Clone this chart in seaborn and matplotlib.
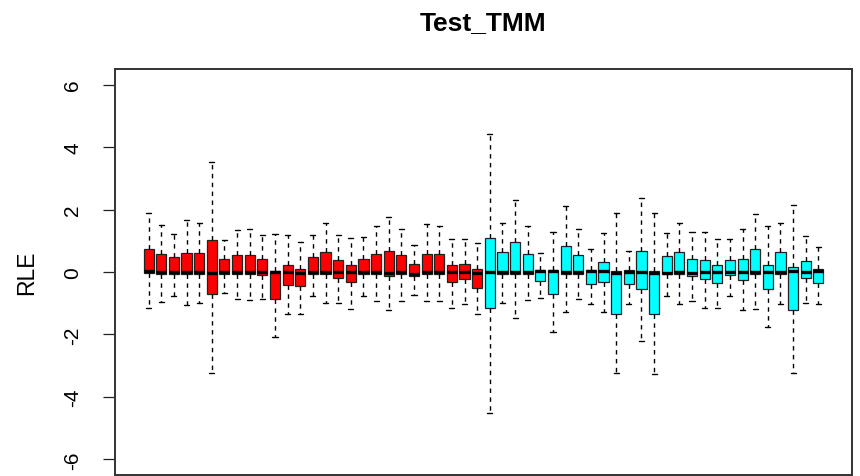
import numpy as np
import pandas as pd
import matplotlib
matplotlib.use("Agg")
import matplotlib.pyplot as plt
import seaborn as sns

# ---- data ----
n_red = 27
n_cyan = 27
whisker_low = [-1.16, -0.97, -0.78, -1.05, -0.99, -3.22, -0.66, -0.88, -0.90, -0.86,
               -2.07, -1.34, -1.33, -0.76, -1.00, -0.99, -1.18, -0.76, -0.94, -1.21,
               -0.92, -0.75, -0.94, -0.94, -1.14, -1.01, -1.35,
               -4.52, -0.99, -1.46, -0.91, -0.82, -1.91, -1.29, -0.88, -1.03, -1.27,
               -3.24, -1.02, -2.20, -3.26, -0.78, -1.02, -0.94, -1.14, -1.16, -0.78,
               -1.21, -1.17, -1.75, -1.02, -3.22, -1.00, -1.02]
q1 = [-0.04, -0.05, -0.07, -0.05, -0.05, -0.71, -0.05, -0.05, -0.05, -0.09,
      -0.85, -0.41, -0.46, -0.06, -0.06, -0.18, -0.33, -0.05, -0.06, -0.12,
      -0.06, -0.14, -0.06, -0.06, -0.33, -0.24, -0.51,
      -1.16, -0.06, -0.06, -0.05, -0.29, -0.71, -0.06, -0.06, -0.37, -0.31,
      -1.34, -0.39, -0.53, -1.34, -0.05, -0.05, -0.12, -0.23, -0.35, -0.09,
      -0.25, -0.05, -0.55, -0.05, -1.21, -0.20, -0.34]
median = [0.03, 0.0, 0.0, 0.0, 0.0, -0.02, 0.0, 0.0, 0.0, 0.0,
          -0.01, -0.01, -0.02, 0.0, 0.0, 0.0, 0.01, 0.0, 0.0, -0.02,
          0.0, -0.05, 0.0, 0.0, 0.0, 0.0, -0.02,
          0.0, 0.0, 0.0, 0.0, 0.02, 0.02, 0.0, 0.0, 0.02, 0.02,
          -0.02, 0.01, 0.0, -0.02, -0.02, 0.0, -0.03, -0.01, -0.01, 0.0,
          0.0, 0.0, 0.0, 0.0, 0.04, 0.0, 0.02]
q3 = [0.74, 0.59, 0.48, 0.62, 0.62, 1.01, 0.41, 0.54, 0.56, 0.42,
      0.03, 0.24, 0.11, 0.48, 0.63, 0.37, 0.23, 0.41, 0.57, 0.67,
      0.54, 0.27, 0.59, 0.57, 0.23, 0.27, 0.09,
      1.09, 0.65, 0.95, 0.57, 0.07, 0.08, 0.83, 0.53, 0.08, 0.31,
      0.03, 0.05, 0.66, 0.03, 0.50, 0.63, 0.42, 0.38, 0.23, 0.38,
      0.41, 0.74, 0.22, 0.65, 0.15, 0.34, 0.10]
whisker_high = [1.89, 1.51, 1.21, 1.65, 1.57, 3.52, 1.03, 1.35, 1.39, 1.17,
                1.22, 1.17, 0.96, 1.19, 1.57, 1.17, 1.09, 1.12, 1.47, 1.75,
                1.38, 0.88, 1.55, 1.47, 1.06, 1.05, 0.94,
                4.43, 1.58, 2.31, 1.48, 0.60, 1.28, 2.10, 1.38, 0.75, 1.24,
                1.89, 0.66, 2.37, 1.89, 1.25, 1.57, 1.27, 1.28, 1.05, 1.05,
                1.37, 1.87, 1.46, 1.57, 2.13, 1.14, 0.80]
groups = ["Group1"] * n_red + ["Group2"] * n_cyan
samples = [f"S{i + 1:02d}" for i in range(n_red + n_cyan)]
yticks = [-6, -4, -2, 0, 2, 4, 6]
title = "Test_TMM"
ylabel = "RLE"

# long-form table: five summary points per sample reproduce the box statistics
rows = []
for s, g, a, b, c, d, e in zip(samples, groups, whisker_low, q1, median, q3, whisker_high):
    for v in (a, b, c, d, e):
        rows.append((s, g, v))
df = pd.DataFrame(rows, columns=["sample", "group", "RLE"])

# ---- figure ----
sns.set_style("white")
plt.rcParams["font.family"] = ["Liberation Sans", "DejaVu Sans"]
plt.rcParams["text.color"] = "black"
plt.rcParams["axes.labelcolor"] = "black"
plt.rcParams["ytick.color"] = "black"

fig = plt.figure(figsize=(8.6, 4.77), dpi=100)
L, R, T, B = 115, 852, 70, 476
ax = fig.add_axes([L / 860, 1 - B / 477, (R - L) / 860, (B - T) / 477])

sns.boxplot(data=df, x="sample", y="RLE", hue="group", order=samples,
            palette={"Group1": "#FF0000", "Group2": "#00FFFF"},
            dodge=False, legend=False, width=0.8, whis=(0, 100),
            saturation=1, linecolor="#222222", linewidth=0.9, fliersize=0,
            whiskerprops=dict(linestyle=(0, (3.2, 3.2)), color="black", linewidth=1.0),
            capprops=dict(color="black", linewidth=1.0),
            medianprops=dict(color="black", linewidth=2.4),
            ax=ax)

n = len(samples)
ax.set_xlim(-0.5 - 0.04 * n, n - 0.5 + 0.04 * n)
ax.set_ylim(-6.5, 6.5)
ax.set_yticks(yticks)
ax.set_yticklabels([str(t) for t in yticks])
ax.set_xticks([])
ax.set_xlabel("")
ax.tick_params(axis="y", direction="out", length=8.5, width=0.9, color="#222222",
               labelcolor="black", labelsize=15, pad=15, left=True)
for lab in ax.get_yticklabels():
    lab.set_rotation(90)
    lab.set_va("center")
    lab.set_ha("right")
ax.set_ylabel(ylabel, fontsize=16.5, color="black")
ax.yaxis.set_label_coords((38 - L) / (R - L), 0.5)
for sp in ax.spines.values():
    sp.set_visible(True)
    sp.set_color("#333333")
    sp.set_linewidth(1.4)
ax.set_title(title, fontsize=19, fontweight="bold", pad=29, color="black")

fig.savefig("out.png", dpi=100)
